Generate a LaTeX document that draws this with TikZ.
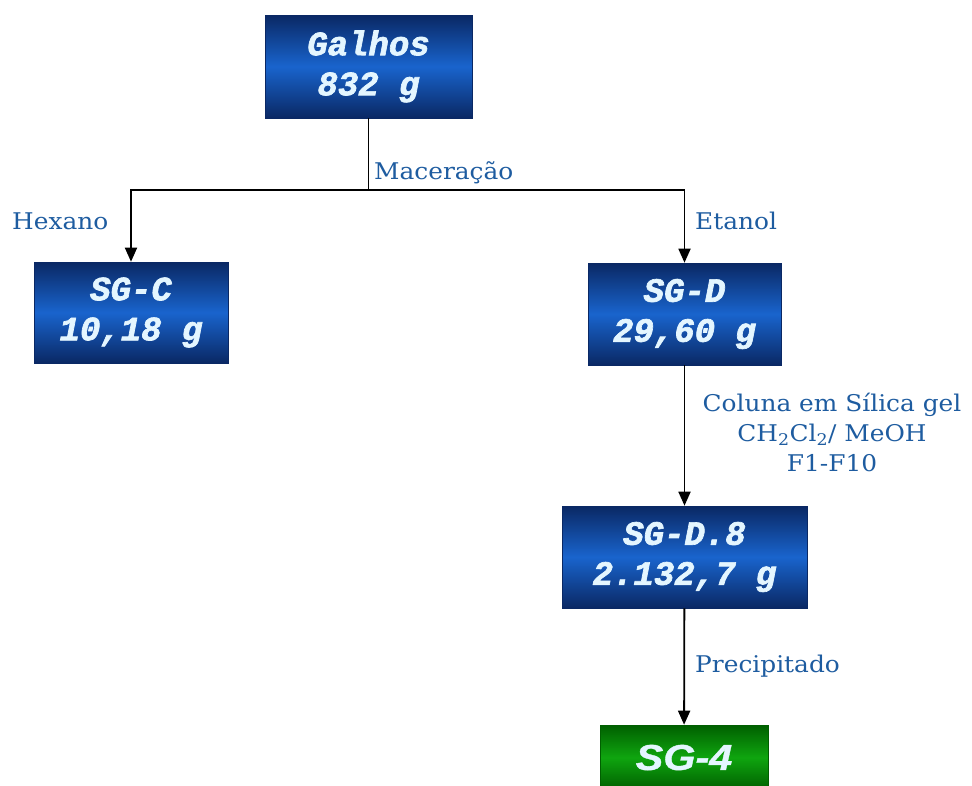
\documentclass[tikz,border=0pt]{standalone}
\usepackage{fontspec}
\usepackage{xcolor}
\usetikzlibrary{arrows.meta,positioning}
\newfontfamily\labelfont[FakeStretch=1.08]{DejaVu Serif}
\newfontfamily\boxfont[FakeBold=2]{Liberation Mono}
\newfontfamily\boxsans[FakeStretch=1.15,FakeBold=1]{Liberation Sans}
\definecolor{boxdark}{RGB}{10,40,100}
\definecolor{boxlight}{RGB}{25,100,205}
\definecolor{greendark}{RGB}{0,95,0}
\definecolor{greenlight}{RGB}{15,165,15}
\definecolor{boxtext}{RGB}{228,246,255}
\definecolor{labeltext}{RGB}{30,92,160}
\tikzset{
	sample/.style={
			draw=boxdark, line width=0.6pt,
			top color=boxdark, bottom color=boxdark, middle color=boxlight,
			text=boxtext, align=center, inner sep=0pt,
			font=\boxfont\bfseries\itshape\fontsize{34}{40}\selectfont
		},
	pure/.style={
			sample,
			draw=greendark,
			top color=greendark, bottom color=greendark, middle color=greenlight,
			font=\boxsans\bfseries\itshape\fontsize{36}{40}\selectfont
		},
	solvent/.style={
			text=labeltext, inner sep=0pt, align=center,
			font=\labelfont\fontsize{23}{30}\selectfont
		},
	flow/.style={line width=1.8pt, -{Triangle[width=12pt,length=14pt]}}
}

\begin{document}
\begin{tikzpicture}[x=1pt,y=-1pt]
        \useasboundingbox (0,0) rectangle (972,785);
        \node[sample,minimum width=207pt,minimum height=103pt] (galhos) at (368.5,66.5)
            {Galhos\\832 g};
        \node[sample,minimum width=194pt,minimum height=101pt] (sgc) at (131,312.5)
            {SG-C\\10,18 g};
        \node[sample,minimum width=193pt,minimum height=102pt] (sgd) at (684.5,314)
            {SG-D\\29,60 g};
        \node[sample,minimum width=245pt,minimum height=102pt] (sgd8) at (684.5,557)
            {SG-D.8\\2.132,7 g};
        \node[pure,minimum width=168pt,minimum height=65pt] (sg4) at (684,757.5)
            {SG-4};
        \coordinate (split) at (368.5,190);
        \draw[line width=1.8pt] (galhos) -- (split);
        \draw[flow] (split) -| (sgc);
        \draw[flow] (split) -| (sgd);
        \draw[flow] (sgd) -- (sgd8);
        \draw[flow] (sgd8) -- (sg4);
        \node[solvent,anchor=base west] (maceracao) at (374,179) {Maceração};
        \node[solvent,anchor=base west] (hexano) at (12,229) {Hexano};
        \node[solvent,anchor=base west] (etanol) at (695,229) {Etanol};
        \node[solvent,anchor=north] (coluna) at (832,393)
            {Coluna em Sílica gel\\CH\textsubscript{2}Cl\textsubscript{2}/ MeOH\\F1-F10};
        \node[solvent,anchor=base west] (precip) at (695,672) {Precipitado};
    \end{tikzpicture}
\end{document}
